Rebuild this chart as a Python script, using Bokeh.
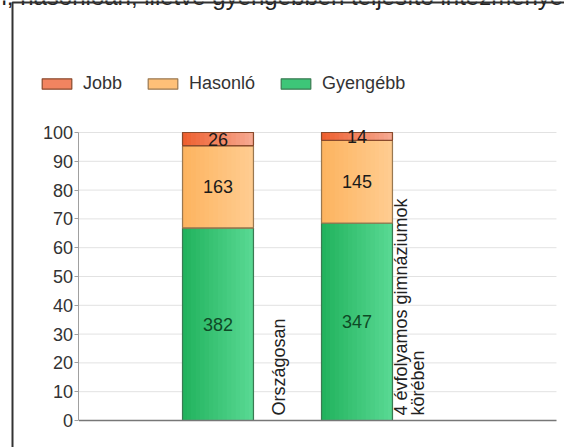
import numpy as np
from bokeh.plotting import figure
from bokeh.models import Range1d, Legend, LegendItem, Label, FixedTicker
from bokeh.core.properties import value
from bokeh.embed import file_html
from bokeh.resources import INLINE

# ---- data ----
title_text = "l, hasonlóan, illetve gyengébben teljesítő intézményei"
categories = ["Országosan", "4 évfolyamos gimnáziumok\nkörében"]
series_names = ["Gyengébb", "Hasonló", "Jobb"]
gyengebb = [382, 347]
hasonlo = [163, 145]
jobb = [26, 14]
y_ticks = [0, 10, 20, 30, 40, 50, 60, 70, 80, 90, 100]

# ---- styles ----
FONT = "Liberation Sans"
grad = {
    "Jobb": ("#ee6030", "#f6a890"),
    "Hasonló": ("#fdb460", "#ffcc90"),
    "Gyengébb": ("#22b35e", "#58d892"),
}
outline = {"Jobb": "#8a4a2c", "Hasonló": "#9a7850", "Gyengébb": "#3a7a52"}
label_color = {"Jobb": "#1a1a1a", "Hasonló": "#1a1a1a", "Gyengébb": "#0e4a26"}

def mix(c1, c2, t):
    a = [int(c1[i:i + 2], 16) for i in (1, 3, 5)]
    b = [int(c2[i:i + 2], 16) for i in (1, 3, 5)]
    return "#%02x%02x%02x" % tuple(int(round(a[k] + (b[k] - a[k]) * t)) for k in range(3))

counts = {"Gyengébb": gyengebb, "Hasonló": hasonlo, "Jobb": jobb}
totals = [sum(v) for v in zip(gyengebb, hasonlo, jobb)]
xs = [i + 1 for i in range(len(categories))]

# frame covers the whole canvas; the y axis is drawn at x = 0 inside it
X0, X1 = -0.5647, 3.4928
Y0, Y1 = -9.375, 145.833
GRID_END = 3.435
p = figure(width=564, height=447, x_range=Range1d(X0, X1), y_range=Range1d(Y0, Y1),
           output_backend="svg", toolbar_location=None, x_axis_location=None,
           min_border_left=0, min_border_right=0, min_border_top=0, min_border_bottom=0)
p.outline_line_color = None
p.background_fill_color = "white"
p.border_fill_color = "white"

p.yaxis.fixed_location = 0
p.yaxis.bounds = (0, 100)
p.yaxis.ticker = FixedTicker(ticks=y_ticks)
p.yaxis.major_label_text_font = FONT
p.yaxis.major_label_text_font_size = "18px"
p.yaxis.major_label_text_color = "#333333"
p.yaxis.axis_line_color = "#a0a0a0"
p.yaxis.major_tick_line_color = "#a0a0a0"
p.yaxis.major_tick_out = 4
p.yaxis.major_tick_in = 0
p.yaxis.minor_tick_line_color = None
p.yaxis.major_label_standoff = 2
p.xgrid.grid_line_color = None
p.ygrid.grid_line_color = None

# horizontal grid lines from the y ticks
p.segment(x0=[0] * len(y_ticks), x1=[GRID_END] * len(y_ticks), y0=y_ticks, y1=y_ticks,
          line_color="#e2e2e2", line_width=1)

# stacked bars with gradient fill
w = 0.51
n = 16
bottoms = [0.0] * len(xs)
legend_renderers = {}
for s in series_names:
    pct = [c / t * 100 for c, t in zip(counts[s], totals)]
    tops = [b + v for b, v in zip(bottoms, pct)]
    base = p.vbar(x=xs, width=w, bottom=bottoms, top=tops,
                  fill_color=mix(grad[s][0], grad[s][1], 0.5), line_color=outline[s], line_width=1.2)
    legend_renderers[s] = base
    for k in range(n):
        t = k / (n - 1)
        xk = [x - w / 2 + (k + 0.5) * w / n for x in xs]
        p.vbar(x=xk, width=w / n + 0.003, bottom=bottoms, top=tops,
               fill_color=mix(grad[s][0], grad[s][1], t), line_color=None)
    p.vbar(x=xs, width=w, bottom=bottoms, top=tops, fill_color=None,
           line_color=outline[s], line_width=1.2)
    mids = [(b + tp) / 2 for b, tp in zip(bottoms, tops)]
    p.text(x=xs, y=mids, text=[str(c) for c in counts[s]], text_align="center",
           text_baseline="middle", text_font=value(FONT), text_font_size="18px",
           text_color=label_color[s])
    bottoms = tops

# baseline
p.segment(x0=[0], x1=[GRID_END], y0=[0], y1=[0], line_color="#777777", line_width=1.5)

# category labels (rotated)
p.text(x=[x + 0.51 for x in xs], y=[0] * len(xs), text=categories, angle=np.pi / 2,
       text_align="left", text_baseline="bottom", y_offset=-5, text_line_height=0.85,
       text_font=value(FONT), text_font_size="18px", text_color="#222222")

# legend
legend = Legend(items=[LegendItem(label=s, renderers=[legend_renderers[s]]) for s in ["Jobb", "Hasonló", "Gyengébb"]],
                orientation="horizontal", location=(38, 353), glyph_width=37, glyph_height=13,
                label_standoff=8, spacing=22, padding=0, margin=0,
                border_line_color=None, background_fill_alpha=0,
                label_text_font=FONT, label_text_font_size="18px", label_text_color="#333333")
p.add_layout(legend)

# title, cut at the top edge as in the original
title = Label(x=1, y=-4, x_units="canvas", y_units="canvas", text=title_text,
              text_font=FONT, text_font_size="24px", text_color="#222222",
              text_align="left", text_baseline="alphabetic")
p.add_layout(title)

# outer frame: border of a large blank label anchored near (12, 12)
frame = Label(x=12, y=2, x_units="canvas", y_units="canvas", text="\u00a0",
              text_font=FONT, text_font_size="2400px", text_align="left", text_baseline="top",
              border_line_color="#333333", border_line_width=2)
p.add_layout(frame)

open("out.html", "w").write(file_html(p, INLINE))
